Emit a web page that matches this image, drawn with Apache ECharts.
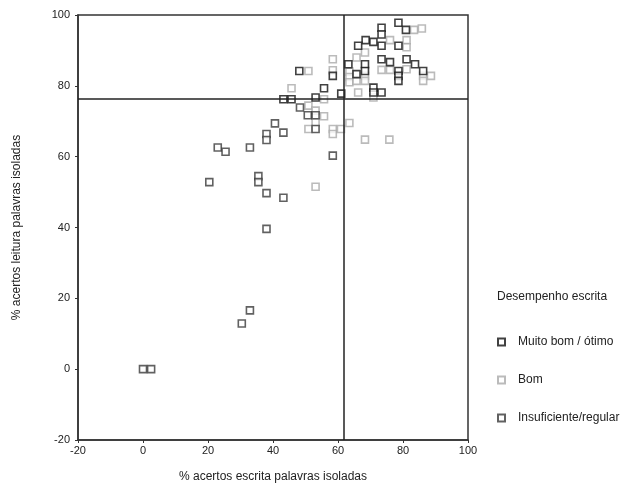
<!DOCTYPE html>
<html>
<head>
<meta charset="utf-8">
<script src="https://cdn.jsdelivr.net/npm/echarts@6/dist/echarts.min.js"></script>
<style>html,body{margin:0;padding:0;background:#fff;}#c{width:636px;height:490px;}</style>
</head>
<body>
<div id="c"></div>
<script>
const xTicks = [-20, 0, 20, 40, 60, 80, 100];
const yTicks = [-20, 0, 20, 40, 60, 80, 100];
const refX = 61.8;
const refY = 76.3;

const muitoBom = [
  [78.6,97.8],[80.9,95.8],[73.4,96.4],[73.4,94.5],[68.5,92.9],[70.9,92.4],[66.2,91.3],
  [73.4,91.3],[78.6,91.3],[63.2,86.1],[68.3,86.1],[68.3,84.2],[65.7,83.3],[73.4,87.5],
  [76,86.7],[78.6,84.2],[78.6,82.8],[78.6,81.4],[81.1,87.5],[83.7,86.1],[86.2,84.2],
  [70.9,79.5],[70.9,78.1],[73.4,78.1],[61,77.8],[48.1,84.2],[58.4,82.8],[55.7,79.3],
  [43.2,76.2],[45.7,76.2],[53.1,76.7]
];
const bom = [
  [83.4,95.8],[85.8,96.2],[76,92.9],[81.1,92.9],[81.1,90.9],[65.7,88],[68.3,89.4],
  [63.5,84],[63.5,82.5],[63.5,81],[65.7,81.4],[68.3,82.8],[68.3,81.4],[73.4,84.5],
  [76,84.5],[81.1,84.7],[86.2,82.8],[88.6,82.8],[86.2,81.4],[66.2,78.1],[70.9,76.7],
  [58.4,87.5],[58.4,84.4],[50.9,84.2],[45.7,79.3],[55.7,76.2],[50.9,74.4],[53.1,73],
  [55.7,71.4],[53.1,69.7],[50.9,67.8],[58.4,67.8],[58.4,66.4],[60.9,67.8],[63.5,69.5],
  [68.3,64.8],[75.8,64.8],[53.1,51.5]
];
const insuficiente = [
  [48.3,73.9],[50.7,71.7],[53.1,71.7],[40.6,69.4],[43.2,66.8],[38,66.4],[38,64.7],
  [53.1,67.8],[23,62.6],[25.4,61.4],[32.9,62.6],[58.4,60.3],[20.4,52.8],[35.5,54.5],
  [35.5,52.8],[38,49.7],[43.2,48.4],[38,39.6],[32.9,16.6],[30.4,12.9],[0,0],[2.5,0]
];

const seriesNames = ['Muito bom / ótimo', 'Bom', 'Insuficiente/regular'];
const colors = ['#111111', '#aaaaaa', '#3a3a3a'];
const datasets = [muitoBom, bom, insuficiente];

const chart = echarts.init(document.getElementById('c'));
const font = 'Liberation Sans, Arial, sans-serif';

const series = datasets.map((d, i) => ({
  name: seriesNames[i],
  type: 'scatter',
  data: d,
  symbol: 'rect',
  symbolSize: 7,
  itemStyle: { color: '#fff', borderColor: colors[i], borderWidth: 1.6 },
  z: i === 1 ? 2 : 3
}));
series[0].markLine = {
  silent: true,
  symbol: 'none',
  label: { show: false },
  lineStyle: { color: '#222', width: 1.5, type: 'solid' },
  data: [{ xAxis: refX }, { yAxis: refY }]
};

chart.setOption({
  animation: false,
  backgroundColor: '#fff',
  grid: { left: 78, right: 168, top: 15, bottom: 50, show: true, borderColor: '#333', borderWidth: 1.5, backgroundColor: 'transparent' },
  xAxis: {
    type: 'value', min: xTicks[0], max: xTicks[xTicks.length - 1], interval: 20,
    name: '% acertos escrita palavras isoladas', nameLocation: 'middle', nameGap: 31,
    nameTextStyle: { fontFamily: font, fontSize: 12, color: '#222' },
    axisLine: { onZero: false, lineStyle: { color: '#333', width: 1.5 } },
    axisTick: { show: true, length: 3, lineStyle: { color: '#333' } },
    axisLabel: { fontFamily: font, fontSize: 11, color: '#222', margin: 5 },
    splitLine: { show: false }
  },
  yAxis: {
    type: 'value', min: yTicks[0], max: yTicks[yTicks.length - 1], interval: 20,
    name: '% acertos leitura palavras isoladas', nameLocation: 'middle', nameGap: 55,
    nameTextStyle: { fontFamily: font, fontSize: 12, color: '#222' },
    axisLine: { show: true, onZero: false, lineStyle: { color: '#333', width: 1.5 } },
    axisTick: { show: true, length: 3, lineStyle: { color: '#333' } },
    axisLabel: { fontFamily: font, fontSize: 11, color: '#222', margin: 8 },
    splitLine: { show: false }
  },
  legend: {
    orient: 'vertical', left: 492, top: 331, itemGap: 26,
    itemWidth: 7, itemHeight: 7,
    textStyle: { fontFamily: font, fontSize: 12, color: '#222', padding: [0, 0, 0, 8] },
    data: seriesNames.map(n => ({ name: n, icon: 'rect' }))
  },
  graphic: [{
    type: 'text', left: 497, top: 291,
    style: { text: 'Desempenho escrita', font: '12px ' + font, fill: '#222' }
  }],
  series: series
});
</script>
</body>
</html>
